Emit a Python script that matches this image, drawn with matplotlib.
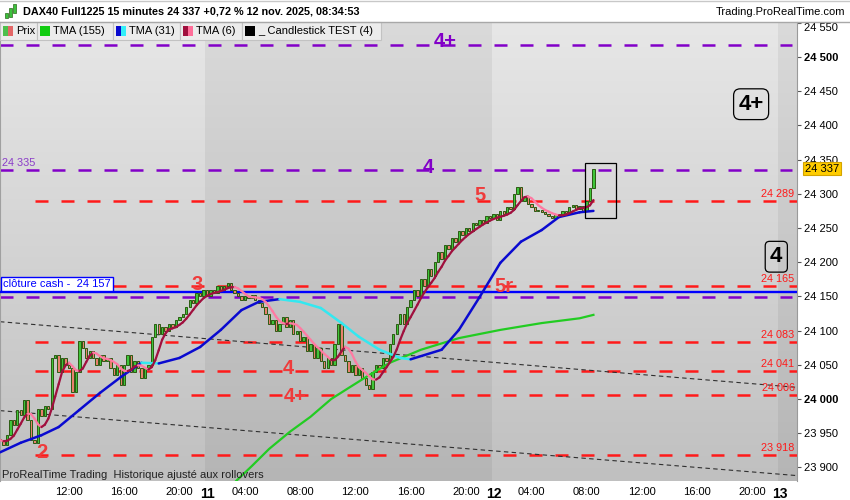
import numpy as np
import pandas as pd
import matplotlib
matplotlib.use('Agg')
import matplotlib.pyplot as plt
from matplotlib.collections import LineCollection
from matplotlib.patches import Rectangle
from matplotlib.colors import LinearSegmentedColormap
from matplotlib.ticker import FuncFormatter

plt.rcParams['font.family'] = ['Liberation Sans', 'DejaVu Sans']

# 15 minute closes, DAX40 future, sessions 01:15 - 21:45
close_nov10 = [23940, 23933, 23947, 23969, 23962, 23984, 23977, 23999, 23969, 23940,
               23935, 23985, 23975, 23990, 23985, 24060, 24065, 24040, 24060, 24050,
               24045, 24010, 24040, 24085, 24075, 24060, 24070, 24060, 24050, 24065,
               24055, 24060, 24045, 24035, 24050, 24020, 24050, 24065, 24040, 24055,
               24045, 24030, 24045, 24050, 24090, 24110, 24095, 24105, 24100, 24110,
               24105, 24115, 24120, 24125, 24135, 24145, 24140, 24155, 24150, 24160]
close_nov11 = [24150, 24160, 24155, 24165, 24160, 24165, 24170, 24160, 24155, 24150,
               24145, 24150, 24148, 24152, 24145, 24140, 24135, 24125, 24110, 24115,
               24100, 24110, 24120, 24105, 24115, 24095, 24100, 24085, 24090, 24070,
               24080, 24060, 24075, 24055, 24045, 24060, 24050, 24080, 24110, 24065,
               24055, 24040, 24050, 24035, 24045, 24030, 24020, 24015, 24040, 24050,
               24045, 24060, 24055, 24080, 24095, 24110, 24125, 24110, 24135, 24145,
               24160, 24150, 24175, 24165, 24190, 24180, 24200, 24215, 24205, 24225,
               24220, 24235, 24230, 24245, 24240, 24250, 24245, 24258, 24255, 24262,
               24258, 24268, 24265]
close_nov12 = [24270, 24262, 24275, 24270, 24280, 24278, 24300, 24310, 24290, 24295,
               24285, 24280, 24275, 24276, 24274, 24270, 24268, 24265, 24270, 24268,
               24275, 24272, 24280, 24283, 24278, 24282, 24275, 24290, 24308, 24337]

# TMA (31) at a few bars
tma31_x = [-60, -54, -48, -43, -37, -31, -25, -19, -14, -8, -2, 4, 10, 15, 21, 27,
           33, 39, 44, 50, 56, 59, 68, 73, 79, 85, 91, 97, 102, 108, 112]
tma31_y = [23922, 23936, 23947, 23959, 23984, 24009, 24032, 24053, 24052, 24060,
           24076, 24101, 24130, 24142, 24146, 24142, 24133, 24111, 24091, 24072,
           24060, 24058, 24072, 24101, 24149, 24199, 24230, 24247, 24266, 24273, 24275]
# TMA (155)
tma155_x = [8, 13, 18, 24, 30, 36, 41, 47, 53, 62, 73, 85, 97, 108, 112]
tma155_y = [23878, 23902, 23927, 23952, 23974, 24000, 24016, 24035, 24053, 24072,
            24089, 24101, 24111, 24118, 24123]

red_levels = [24289, 24165, 24083, 24041, 24006, 23918]
purple_levels = [24518, 24335, 24149]
cash_close = 24157
trend_x = [-60, 171]
trend_a = [24113, 24017]
trend_b = [23983, 23888]

red_marks = [('2', -48, 23922), ('3', -3, 24168), ('4', 23.5, 24044),
             ('4+', 25.5, 24003), ('5', 79, 24297), ('5r', 86, 24164)]
purple_marks = [('4+', 69, 24522), ('4', 64, 24339)]
test_box_x = [109.5, 118.5]
test_box_y = [24265, 24345]

RED = '#ff1a1a'
PURPLE = '#8200c8'


def session(day, start='01:15', end='21:45'):
    return pd.date_range(f'2025-11-{day} {start}', f'2025-11-{day} {end}', freq='15min')


times = session(10, '07:00').append([session(11), session(12), session(13)])
x_all = np.arange(len(times)) - 60

closes = np.array(close_nov10 + close_nov11 + close_nov12, dtype=float)
opens = np.r_[closes[:1], closes[:-1]]
x = x_all[:len(closes)]

fig = plt.figure(figsize=(8.5, 5), dpi=100)
ax = fig.add_axes([0, 19 / 500, 797 / 850, 459 / 500])
XL, YL = (-60, 171), (23880.1, 24551.2)
ax.set_xlim(*XL)
ax.set_ylim(*YL)

# background gradient + day shading
grad = np.linspace(0, 1, 256).reshape(-1, 1)
cmap = LinearSegmentedColormap.from_list('bg', ['#e7e7e7', '#c0c0c0'])
ax.imshow(grad, extent=[XL[0], XL[1], YL[0], YL[1]], aspect='auto', cmap=cmap,
          origin='upper', zorder=0)
day_start = [i for i, t in zip(x_all, times) if t.hour == 1 and t.minute == 15]
ax.axvspan(day_start[0] - 0.5, day_start[1] - 0.5, color='black', alpha=0.055, lw=0, zorder=0.5)
ax.axvspan(day_start[2] - 0.5, XL[1], color='black', alpha=0.055, lw=0, zorder=0.5)

# levels
dash = (0, (5.2, 5.2))
for lvl in red_levels:
    ax.plot([-50, XL[1]], [lvl, lvl], color=RED, lw=1.8, ls=dash, zorder=2)
for lvl in purple_levels:
    ax.plot([XL[0], XL[1] - 1.5], [lvl, lvl], color=PURPLE, lw=1.8, ls=dash, zorder=2)
ax.axhline(cash_close, color='#0000ff', lw=1.7, zorder=3)
ax.plot(trend_x, trend_a, color='#303030', lw=0.8, ls=(0, (4, 3)), zorder=2)
ax.plot(trend_x, trend_b, color='#303030', lw=0.8, ls=(0, (4, 3)), zorder=2)

# candles
up = closes >= opens
body_lo = np.minimum(opens, closes)
body_h = np.maximum(np.abs(closes - opens), 1.5)
ax.bar(x, body_h, bottom=body_lo, width=0.68,
       color=np.where(up, '#3fc53a', '#e9806e'), edgecolor='#2c5a12',
       linewidth=0.7, zorder=4)


def slope_line(xs, ys, up_color, down_color, lw, z):
    xs, ys = np.asarray(xs, float), np.asarray(ys, float)
    pts = np.column_stack([xs, ys])
    segs = np.stack([pts[:-1], pts[1:]], axis=1)
    cols = [up_color if b >= a else down_color for a, b in zip(ys[:-1], ys[1:])]
    ax.add_collection(LineCollection(segs, colors=cols, linewidths=lw,
                                     zorder=z, capstyle='round'))


ax.plot(tma155_x, tma155_y, color='#22cc22', lw=1.6, zorder=5)
slope_line(tma31_x, tma31_y, '#0a0ad0', '#33e8f0', 1.8, 5)
tma6 = pd.Series(closes).rolling(3, min_periods=1).mean().rolling(4, min_periods=1).mean()
slope_line(x, tma6.to_numpy(), '#a0103e', '#ff7aa2', 1.6, 6)

# indicator texts
for txt, bx, by in red_marks:
    ax.text(bx, by, txt, color='#ef3b3b', fontsize=14.5, fontweight='bold',
            ha='center', va='center', zorder=7)
for txt, bx, by in purple_marks:
    ax.text(bx, by, txt, color=PURPLE, fontsize=14.5, fontweight='bold',
            ha='center', va='center', zorder=7)
ax.text(157.7, 24431, '4+', fontsize=16, fontweight='bold', ha='center', va='center',
        zorder=7, bbox=dict(boxstyle='round,pad=0.22,rounding_size=0.3', fc='none',
                            ec='black', lw=0.9))
ax.text(165, 24208, '4', fontsize=16, fontweight='bold', ha='center', va='center',
        zorder=7, bbox=dict(boxstyle='round,pad=0.22,rounding_size=0.2', fc='none',
                            ec='black', lw=0.9))
ax.add_patch(Rectangle((test_box_x[0], test_box_y[0]), test_box_x[1] - test_box_x[0],
                       test_box_y[1] - test_box_y[0], fill=False, ec='black', lw=0.9,
                       zorder=7))

fmt = lambda v: f'{int(round(v)):,}'.replace(',', ' ')
yax = ax.get_yaxis_transform()
for lvl in red_levels:
    ax.text(0.997, lvl + 3, fmt(lvl), transform=yax, ha='right', va='bottom',
            color=RED, fontsize=7.8, zorder=8)
ax.text(0.003, purple_levels[1] + 3, fmt(purple_levels[1]), transform=yax, ha='left',
        va='bottom', color='#8a3cc8', fontsize=7.8, zorder=8)
ax.text(0.004, cash_close + 4, f'clôture cash -  {fmt(cash_close)}', transform=yax,
        ha='left', va='bottom', color='#0000ff', fontsize=8, zorder=8,
        bbox=dict(boxstyle='square,pad=0.18', fc='white', ec='#0000ff', lw=1))
ax.text(1.01, closes[-1], fmt(closes[-1]), transform=yax, ha='left', va='center',
        fontsize=8, zorder=10, clip_on=False,
        bbox=dict(boxstyle='square,pad=0.15', fc='#ffcc00', ec='#d4a400', lw=0.8))

# axes
for s in ('top', 'bottom'):
    ax.spines[s].set_visible(False)
ax.spines['left'].set_color('#a0a0a0')
ax.spines['right'].set_color('#9a9a9a')
ax.yaxis.tick_right()
ax.set_yticks(np.arange(23900, 24551, 50))
ax.yaxis.set_major_formatter(FuncFormatter(lambda v, _: fmt(v)))
ax.tick_params(axis='y', length=3, width=0.8, color='#555555', pad=2, labelsize=8)
ylabs = ax.get_yticklabels()
for lab in ylabs:
    if lab.get_text() in ('24 500', '24 000'):
        lab.set_fontweight('bold')
ylabs[-1].set_verticalalignment('top')

tick_pos, tick_lab = [], []
for xx, t in zip(x_all, times):
    if xx < -45 or xx > XL[1]:
        continue
    if t.hour == 1 and t.minute == 15:
        tick_pos.append(xx)
        tick_lab.append(str(t.day))
    elif t.minute == 0 and t.hour in (4, 8, 12, 16, 20):
        tick_pos.append(xx)
        tick_lab.append(t.strftime('%H:%M'))
ax.set_xticks(tick_pos, tick_lab)
ax.tick_params(axis='x', length=0, pad=4, labelsize=8)
for lab in ax.get_xticklabels():
    if ':' not in lab.get_text():
        lab.set_fontweight('bold')
        lab.set_fontsize(10)

# header / legend overlay in pixel coordinates
top = fig.add_axes([0, 0, 1, 1], zorder=20)
top.set_xlim(0, 850)
top.set_ylim(500, 0)
top.axis('off')
top.patch.set_visible(False)
top.plot([0, 850], [21.5, 21.5], color='#a8a8a8', lw=1)
top.plot([0, 850], [0.5, 0.5], color='#c8c8c8', lw=1)
for cx, y0, h in [(6.5, 13, 5), (10.5, 8, 9), (14.5, 4, 9)]:
    top.add_patch(Rectangle((cx - 1.5, y0), 3, h, fc='#3cc23c', ec='#2c6a1c', lw=0.5))
top.text(23, 12, 'DAX40 Full1225 15 minutes 24 337 +0,72 % 12 nov. 2025, 08:34:53',
         fontsize=7.8, fontweight='bold', va='center')
top.text(845, 12, 'Trading.ProRealTime.com', fontsize=8, va='center', ha='right')

legend_items = [('Prix', ['#4cbf4c', '#e36666']),
                ('TMA (155)', ['#11cc11']),
                ('TMA (31)', ['#0a0ad0', '#33eef8']),
                ('TMA (6)', ['#a0103e', '#ff6f9a']),
                ('_ Candlestick TEST (4)', ['#000000'])]
edges = [0, 37, 113, 180, 242, 381]
for (name, cols), x0, x1 in zip(legend_items, edges[:-1], edges[1:]):
    top.add_patch(Rectangle((x0, 22), x1 - x0, 18, fc='#ececec', ec='#c2c2c2', lw=0.8))
    w = 10 / len(cols)
    for k, c in enumerate(cols):
        top.add_patch(Rectangle((x0 + 3 + k * w, 26), w, 10, fc=c, lw=0))
    top.text(x0 + 16, 31, name, fontsize=8, va='center')

top.text(2, 475, 'ProRealTime Trading  Historique ajusté aux rollovers',
         fontsize=8, va='center', color='#222222')

fig.savefig('out.png', dpi=100)
